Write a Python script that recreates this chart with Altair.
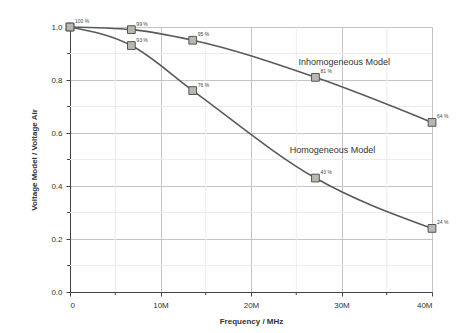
import altair as alt
import pandas as pd

freq = [0.0, 6.78, 13.56, 27.12, 40.0]
inhom = [1.00, 0.99, 0.95, 0.81, 0.64]
hom = [1.00, 0.93, 0.76, 0.43, 0.24]
inhom_lbl = ["100 %", "99 %", "95 %", "81 %", "64 %"]
hom_lbl = ["", "93 %", "76 %", "43 %", "24 %"]
x_ticks = [0, 10, 20, 30, 40]
x_minor = [5, 15, 25, 35]
y_minor = [0.1, 0.3, 0.5, 0.7, 0.9]
series_names = ["Inhomogeneous Model", "Homogeneous Model"]
name_x = [30.3, 29.0]
name_y = [0.868, 0.535]

rows = []
for i in range(len(freq)):
    rows.append({"f": freq[i], "v": inhom[i], "s": series_names[0], "lbl": inhom_lbl[i]})
for i in range(len(freq)):
    rows.append({"f": freq[i], "v": hom[i], "s": series_names[1], "lbl": hom_lbl[i]})
df = pd.DataFrame(rows)

xs = alt.Scale(domain=[0, 40], nice=False)
ys = alt.Scale(domain=[0, 1.0], nice=False)

x_axis = alt.Axis(values=x_ticks, labelExpr="datum.value == 0 ? '0' : datum.value + 'M'",
                  title="Frequency / MHz", grid=True, gridColor="#c4c4c4", gridWidth=1,
                  domainColor="#444", tickColor="#444", tickSize=4, labelFontSize=8,
                  titleFontSize=8, labelColor="#333", titleColor="#333", titlePadding=8,
                  labelPadding=5, labelFont="Liberation Sans", titleFont="Liberation Sans")
y_axis = alt.Axis(values=[0, 0.2, 0.4, 0.6, 0.8, 1.0], format=".1f",
                  title="Voltage Model / Voltage Air", grid=True, gridColor="#c4c4c4", gridWidth=1,
                  domainColor="#444", tickColor="#444", tickSize=4, labelFontSize=8,
                  titleFontSize=8, labelColor="#333", titleColor="#333", titlePadding=12,
                  labelPadding=4, labelFont="Liberation Sans", titleFont="Liberation Sans")

base = alt.Chart(df)

minor_x = alt.Chart(pd.DataFrame({"m": x_minor})).mark_rule(color="#ececec", strokeWidth=1).encode(
    x=alt.X("m:Q", scale=xs, axis=x_axis))
minor_y = alt.Chart(pd.DataFrame({"m": y_minor})).mark_rule(color="#ececec", strokeWidth=1).encode(
    y=alt.Y("m:Q", scale=ys, axis=y_axis))
minor_xt = alt.Chart(pd.DataFrame({"m": x_minor})).mark_rule(color="#444", strokeWidth=1).encode(
    x=alt.X("m:Q", scale=xs), y=alt.value(265), y2=alt.value(268))
minor_yt = alt.Chart(pd.DataFrame({"m": y_minor})).mark_rule(color="#444", strokeWidth=1).encode(
    y=alt.Y("m:Q", scale=ys), x=alt.value(-3), x2=alt.value(0))

lines = base.mark_line(interpolate="monotone", color="#5a5a5a", strokeWidth=1.6).encode(
    x=alt.X("f:Q", scale=xs, axis=x_axis),
    y=alt.Y("v:Q", scale=ys, axis=y_axis),
    detail="s:N")
pts = base.mark_point(shape="square", size=60, filled=True, fill="#b8b8b0", stroke="#555",
                      strokeWidth=1, opacity=1).encode(
    x=alt.X("f:Q", scale=xs), y=alt.Y("v:Q", scale=ys))
lbls = base.mark_text(align="left", baseline="bottom", dx=5, dy=-3, fontSize=5,
                      color="#444", font="Liberation Sans").encode(
    x=alt.X("f:Q", scale=xs), y=alt.Y("v:Q", scale=ys), text="lbl:N")
names = alt.Chart(pd.DataFrame({"n": series_names, "x": name_x, "y": name_y})).mark_text(
    align="center", baseline="middle", fontSize=9, color="#333", font="Liberation Sans").encode(
    x=alt.X("x:Q", scale=xs), y=alt.Y("y:Q", scale=ys), text="n:N")

chart = alt.layer(minor_x, minor_y, minor_xt, minor_yt, lines, pts, lbls, names).properties(
    width=362, height=265,
    autosize=alt.AutoSizeParams(type="none"),
    padding={"left": 62, "top": 19, "right": 20, "bottom": 40},
).configure_view(stroke=None).configure(background="white")

chart.save("out.html", embed_options={"renderer": "svg", "actions": False})
